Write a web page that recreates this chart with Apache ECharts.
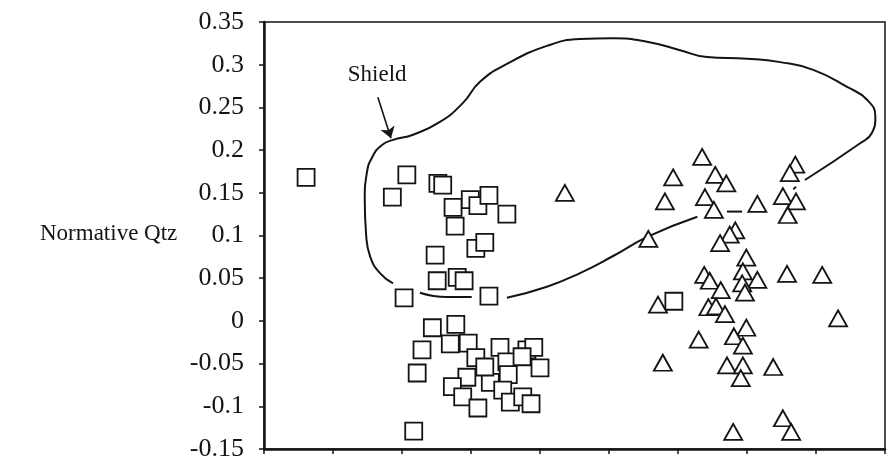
<!DOCTYPE html>
<html>
<head>
<meta charset="utf-8">
<script src="https://cdn.jsdelivr.net/npm/echarts@6/dist/echarts.min.js"></script>
<style>
  html, body { margin: 0; padding: 0; background: #fff; }
  #chart { width: 891px; height: 467px; }
</style>
</head>
<body>
<div id="chart"></div>
<script>
// Sample groups: [discriminant score, normative quartz]
const squares = [
  [0.61, 0.168], [1.86, 0.145], [2.07, 0.171], [2.52, 0.161], [2.59, 0.159],
  [2.74, 0.133], [2.99, 0.142], [3.10, 0.135], [3.26, 0.147], [3.52, 0.125],
  [2.77, 0.111], [3.07, 0.085], [3.20, 0.092], [2.48, 0.077], [2.51, 0.047],
  [2.80, 0.051], [2.90, 0.047], [2.03, 0.027], [3.26, 0.029],
  [2.44, -0.008], [2.78, -0.004], [2.29, -0.034], [2.70, -0.027], [2.96, -0.026],
  [2.22, -0.061], [3.07, -0.043], [3.42, -0.031], [3.81, -0.034], [3.91, -0.031],
  [3.52, -0.048], [3.74, -0.042], [4.00, -0.055], [2.94, -0.066], [3.28, -0.072],
  [3.54, -0.063], [2.73, -0.077], [2.88, -0.089], [3.10, -0.102], [3.46, -0.081],
  [3.57, -0.095], [3.75, -0.089], [3.87, -0.097], [2.17, -0.129], [3.20, -0.054],
  [5.94, 0.023]
];

const triangles = [
  [4.36, 0.150], [5.57, 0.096], [5.81, 0.140], [5.93, 0.168], [6.35, 0.192],
  [6.54, 0.171], [6.70, 0.161], [6.39, 0.145], [6.52, 0.130], [7.15, 0.137],
  [7.70, 0.183], [7.62, 0.173], [7.52, 0.146], [7.71, 0.140], [7.59, 0.124],
  [6.83, 0.106], [6.75, 0.101], [6.61, 0.091], [6.99, 0.074], [6.94, 0.058],
  [7.15, 0.048], [6.93, 0.044], [6.97, 0.033], [7.58, 0.055], [8.09, 0.054],
  [6.38, 0.054], [6.46, 0.047], [6.62, 0.036], [5.71, 0.019], [6.44, 0.016],
  [6.55, 0.017], [6.68, 0.008], [8.32, 0.003], [6.30, -0.022], [6.99, -0.008],
  [6.81, -0.018], [6.94, -0.029], [5.78, -0.049], [6.71, -0.052], [6.94, -0.052],
  [6.91, -0.067], [7.38, -0.054], [7.52, -0.114], [7.64, -0.130], [6.80, -0.130]
];

// Shield field boundary, drawn as separate strokes (the lower edge is broken)
const shieldOutline = [
  [1.87, 0.044], [1.68, 0.056], [1.54, 0.075], [1.48, 0.101], [1.46, 0.142],
  [1.49, 0.173], [1.57, 0.192], [1.71, 0.206], [1.87, 0.212], [2.16, 0.218],
  [2.55, 0.233], [2.88, 0.255], [3.13, 0.280], [3.50, 0.300], [4.10, 0.322],
  [4.58, 0.330], [5.06, 0.331], [5.55, 0.327], [6.03, 0.317], [6.42, 0.309],
  [7.00, 0.307], [7.48, 0.303], [7.96, 0.294], [8.45, 0.274], [8.74, 0.259],
  [8.86, 0.239], [8.81, 0.220], [8.64, 0.208], [7.84, 0.165]
];
const shieldDashA = [[7.67, 0.154], [7.71, 0.157]];
const shieldDashB = [[6.71, 0.128], [6.93, 0.128]];
const shieldLower = [
  [6.28, 0.122], [5.57, 0.099], [5.06, 0.076], [4.58, 0.056], [4.10, 0.040], [3.52, 0.027]
];
const shieldDashC = [[2.26, 0.033], [2.65, 0.028], [3.01, 0.028]];
const shieldStrokes = [shieldOutline, shieldDashA, shieldDashB, shieldLower, shieldDashC];

// Label and pointer for the field
const shieldLabel = { text: 'Shield', at: [1.64, 0.288] };
const shieldArrow = [[1.65, 0.262], [1.84, 0.214]];

// Axis ranges
const yTicks = { min: -0.15, max: 0.35, step: 0.05 };
const xTicks = { min: 0, max: 9, step: 1 };
const yTitle = 'Normative Qtz';

const ink = '#141414';
const serif = '"Liberation Serif", "DejaVu Serif", serif';

const chart = echarts.init(document.getElementById('chart'), null, { renderer: 'canvas' });

const series = [];
shieldStrokes.forEach(function (pts) {
  series.push({
    type: 'line',
    data: pts,
    smooth: 0.5,
    symbol: 'none',
    silent: true,
    lineStyle: { color: ink, width: 2 },
    z: 2
  });
});
series.push({
  type: 'lines',
  coordinateSystem: 'cartesian2d',
  silent: true,
  symbol: ['none', 'arrow'],
  symbolSize: 11,
  lineStyle: { color: ink, width: 1.6, opacity: 1 },
  data: [{ coords: shieldArrow }],
  z: 3
});
series.push({
  type: 'scatter',
  symbolSize: 0,
  silent: true,
  data: [shieldLabel.at],
  itemStyle: { opacity: 1 },
  label: {
    show: true,
    position: 'inside',
    formatter: shieldLabel.text,
    color: ink,
    opacity: 1,
    textBorderWidth: 0,
    fontFamily: serif,
    fontSize: 23
  }
});
series.push({
  type: 'scatter',
  data: squares,
  symbol: 'rect',
  symbolSize: 17,
  itemStyle: { color: '#fff', borderColor: ink, borderWidth: 1.8, opacity: 1 },
  z: 4
});
series.push({
  type: 'scatter',
  data: triangles,
  symbol: 'triangle',
  symbolSize: [18, 16],
  itemStyle: { color: '#fff', borderColor: ink, borderWidth: 1.8, opacity: 1 },
  z: 4
});

chart.setOption({
  animation: false,
  backgroundColor: '#fff',
  grid: {
    left: 264, right: 6, top: 22, bottom: 18,
    show: true, borderColor: ink, borderWidth: 1.5, backgroundColor: 'transparent'
  },
  xAxis: {
    type: 'value',
    min: xTicks.min, max: xTicks.max, interval: xTicks.step,
    axisLine: { show: true, onZero: false, lineStyle: { color: ink, width: 2.5 } },
    axisTick: { show: true, length: 5, lineStyle: { color: ink, width: 1.5 } },
    axisLabel: { show: false },
    splitLine: { show: false }
  },
  yAxis: {
    type: 'value',
    min: yTicks.min, max: yTicks.max, interval: yTicks.step,
    axisLine: { show: true, onZero: false, lineStyle: { color: ink, width: 2.5 } },
    axisTick: { show: true, length: 5, lineStyle: { color: ink, width: 1.5 } },
    axisLabel: {
      margin: 20,
      color: ink,
      fontFamily: serif,
      fontSize: 26,
      formatter: function (v) { return String(Number(v.toFixed(2))); }
    },
    splitLine: { show: false }
  },
  graphic: [{
    type: 'text',
    left: 40,
    top: 222,
    style: { text: yTitle, fill: ink, font: '23px ' + serif }
  }],
  series: series
});
</script>
</body>
</html>
